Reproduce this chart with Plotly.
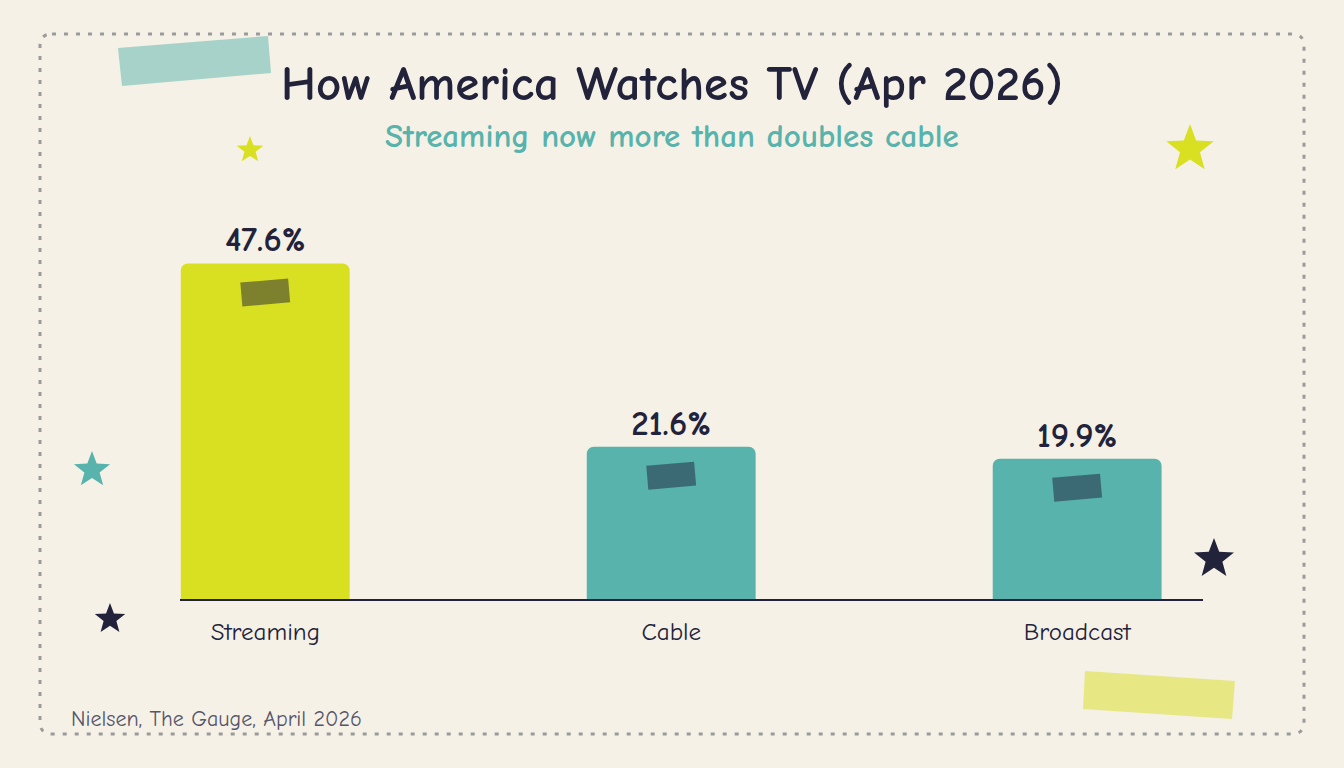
import math
import plotly.graph_objects as go

# ---- data ----
categories = ["Streaming", "Cable", "Broadcast"]
shares = [47.6, 21.6, 19.9]
bar_colors = ["#d9e021", "#57b3ac", "#57b3ac"]
title_text = "How America Watches TV (Apr 2026)"
subtitle_text = "Streaming now more than doubles cable"
source_text = "Nielsen, The Gauge, April 2026"

# ---- layout constants (pixels) ----
FW, FH = 1344, 768
L, R, T, B = 180, 1203, 200, 599
W, H = R - L, B - T
XMIN, XMAX = -0.21, 2.31
YMAX = 56.6
NAVY = "#22223b"
TEAL = "#57b3ac"
YEL = "#d9e021"
BG = "#f5f1e6"
FONT = "Comic Neue, Comic Sans MS, Lato, sans-serif"


def X(px):
    return (px - L) / W


def Y(py):
    return (B - py) / H


def poly_paper(pts):
    return "M " + " L ".join(f"{X(x):.5f},{Y(y):.5f}" for x, y in pts) + " Z"


def star(cx, cy, r, ratio=0.42):
    pts = []
    for k in range(10):
        ang = -math.pi / 2 + k * math.pi / 5
        rr = r if k % 2 == 0 else r * ratio
        pts.append((cx + rr * math.cos(ang), cy + rr * math.sin(ang)))
    return poly_paper(pts)


def rounded_rect(x0, y0, x1, y1, rad):
    p = []
    p.append(f"M {X(x0 + rad):.5f},{Y(y0):.5f}")
    p.append(f"L {X(x1 - rad):.5f},{Y(y0):.5f}")
    p.append(f"Q {X(x1):.5f},{Y(y0):.5f} {X(x1):.5f},{Y(y0 + rad):.5f}")
    p.append(f"L {X(x1):.5f},{Y(y1 - rad):.5f}")
    p.append(f"Q {X(x1):.5f},{Y(y1):.5f} {X(x1 - rad):.5f},{Y(y1):.5f}")
    p.append(f"L {X(x0 + rad):.5f},{Y(y1):.5f}")
    p.append(f"Q {X(x0):.5f},{Y(y1):.5f} {X(x0):.5f},{Y(y1 - rad):.5f}")
    p.append(f"L {X(x0):.5f},{Y(y0 + rad):.5f}")
    p.append(f"Q {X(x0):.5f},{Y(y0):.5f} {X(x0 + rad):.5f},{Y(y0):.5f}")
    p.append("Z")
    return " ".join(p)


xs = list(range(len(categories)))

fig = go.Figure()
fig.add_trace(go.Bar(
    x=xs, y=shares, width=0.416,
    marker=dict(color=bar_colors, line=dict(width=0)),
    text=[f"{v:.1f}%" for v in shares],
    textposition="outside",
    textfont=dict(family=FONT, size=35, color=NAVY, weight="bold"),
    cliponaxis=False,
    hoverinfo="skip",
))

shapes = []
# dotted frame
shapes.append(dict(type="path", xref="paper", yref="paper",
                   path=rounded_rect(40, 34, 1304, 734, 12),
                   line=dict(color="#9b9b9b", width=3, dash="4px,8px"),
                   fillcolor="rgba(0,0,0,0)", layer="below"))
# paper tapes
shapes.append(dict(type="path", xref="paper", yref="paper",
                   path=poly_paper([(118, 48), (268, 36), (271, 73), (122, 86)]),
                   fillcolor=TEAL, opacity=0.5, line=dict(width=0), layer="below"))
shapes.append(dict(type="path", xref="paper", yref="paper",
                   path=poly_paper([(1085, 671), (1235, 681), (1232, 719), (1083, 709)]),
                   fillcolor=YEL, opacity=0.5, line=dict(width=0), layer="below"))
# stars
for cx, cy, r, col in [(250, 150, 14, YEL), (1190, 149, 25, YEL), (92, 470, 19, TEAL),
                       (110, 619, 16, NAVY), (1214, 559, 21, NAVY)]:
    shapes.append(dict(type="path", xref="paper", yref="paper", path=star(cx, cy, r),
                       fillcolor=col, line=dict(width=0), layer="above"))

# tape strips on bar tops (pixel-sized, positioned from data)
sx = W / (XMAX - XMIN)
sy = H / YMAX
ang = math.radians(-5)
for i, v in enumerate(shares):
    cxp, cyp = 0.0, 29.0  # offset below bar top in px
    pts = []
    for dx, dy in [(-24, -12), (24, -12), (24, 12), (-24, 12)]:
        rx = dx * math.cos(ang) - dy * math.sin(ang)
        ry = dx * math.sin(ang) + dy * math.cos(ang)
        pts.append((i + (cxp + rx) / sx, v - (cyp + ry) / sy))
    path = "M " + " L ".join(f"{a:.5f},{b:.5f}" for a, b in pts) + " Z"
    shapes.append(dict(type="path", xref="x", yref="y", path=path,
                       fillcolor=NAVY, opacity=0.5, line=dict(width=0), layer="above"))

annotations = [
    dict(text=f"<b>{title_text}</b>", x=X(672), y=Y(84), xref="paper", yref="paper",
         showarrow=False, xanchor="center", yanchor="middle",
         font=dict(family=FONT, size=49, color=NAVY)),
    dict(text=f"<b>{subtitle_text}</b>", x=X(672), y=Y(136), xref="paper", yref="paper",
         showarrow=False, xanchor="center", yanchor="middle",
         font=dict(family=FONT, size=33, color=TEAL)),
    dict(text=source_text, x=X(69), y=Y(719), xref="paper", yref="paper",
         showarrow=False, xanchor="left", yanchor="middle",
         font=dict(family=FONT, size=22, color="#55556a")),
]

fig.update_layout(
    width=FW, height=FH,
    margin=dict(l=L, r=FW - R, t=T, b=FH - B, pad=0),
    paper_bgcolor=BG, plot_bgcolor=BG,
    showlegend=False,
    barcornerradius=7,
    shapes=shapes,
    annotations=annotations,
    xaxis=dict(range=[XMIN, XMAX], tickvals=xs, ticktext=categories,
               showgrid=False, zeroline=False, showline=True, linecolor=NAVY, linewidth=2,
               ticks="", ticklabelstandoff=9,
               tickfont=dict(family=FONT, size=25, color=NAVY), fixedrange=True),
    yaxis=dict(range=[0, YMAX], visible=False, showgrid=False, zeroline=False, fixedrange=True),
)

fig.write_html("out.html", config={"displayModeBar": False})
